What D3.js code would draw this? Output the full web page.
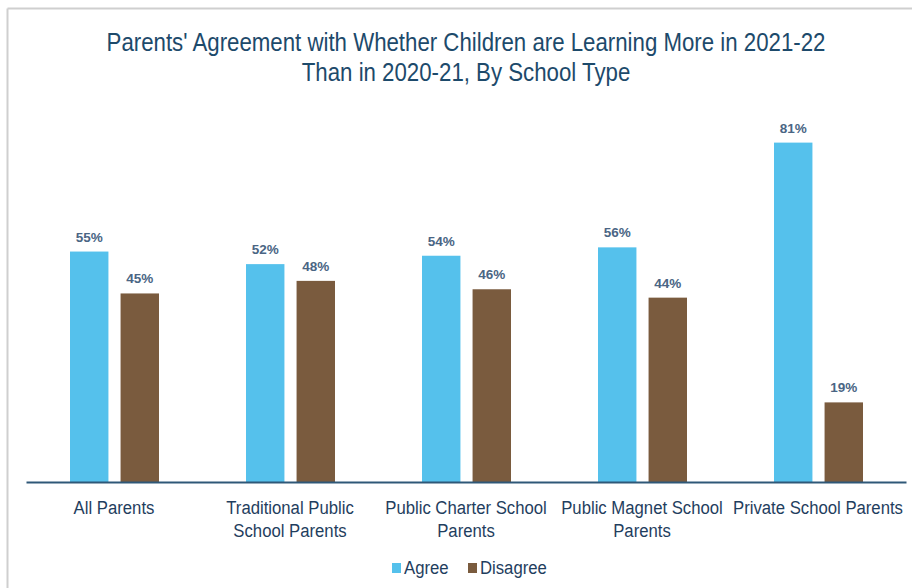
<!DOCTYPE html>
<html>
<head>
<meta charset="utf-8">
<script src="https://cdn.jsdelivr.net/npm/d3@7/dist/d3.min.js"></script>
<style>
  html, body { margin: 0; padding: 0; background: #fff; }
  svg { display: block; }
  .narrow { font-family: "Liberation Sans Narrow", "Arial Narrow", "Liberation Sans", sans-serif; }
</style>
</head>
<body>
<svg id="chart" width="912" height="588"></svg>
<script>
// Survey results: share of parents agreeing / disagreeing, by school type
const categories = [
  ["All Parents"],
  ["Traditional Public", "School Parents"],
  ["Public Charter School", "Parents"],
  ["Public Magnet School", "Parents"],
  ["Private School Parents"]
];
const seriesNames = ["Agree", "Disagree"];
const agreeValues = [55, 52, 54, 56, 81];
const disagreeValues = [45, 48, 46, 44, 19];
const titleLines = [
  "Parents' Agreement with Whether Children are Learning More in 2021-22",
  "Than in 2020-21, By School Type"
];

const colors = { Agree: "#55c1ec", Disagree: "#7a5b3e" };
const svg = d3.select("#chart");
const W = 912, H = 588;
const condense = 0.88; // horizontal squeeze to give a narrow typeface look

// outer frame (top and left edges)
svg.append("line").attr("x1", 7.5).attr("x2", W).attr("y1", 8.5).attr("y2", 8.5)
  .attr("stroke", "#cfcfcf").attr("stroke-width", 2);
svg.append("line").attr("x1", 7.5).attr("x2", 7.5).attr("y1", 8.5).attr("y2", H)
  .attr("stroke", "#cfcfcf").attr("stroke-width", 2);

// title, condensed
const titleG = svg.append("g").attr("transform", "translate(466,0) scale(0.89,1)");
titleG.selectAll("text").data(titleLines).join("text")
  .attr("class", "narrow")
  .attr("text-anchor", "middle")
  .attr("fill", "#1d4a6b")
  .attr("font-size", 25)
  .attr("x", 0)
  .attr("y", (d, i) => 51 + i * 30)
  .text(d => d);

const keys = categories.map((c, i) => i);
const x0 = d3.scaleBand().domain(keys).range([26, 906]).paddingInner(0).paddingOuter(0);
const x1 = d3.scaleBand().domain(seriesNames).range([44, 133]).paddingInner(0.24).paddingOuter(0);
const y = d3.scaleLinear().domain([0, 100]).range([482, 63]);

const rows = keys.map(i => ({
  i,
  vals: [
    { key: "Agree", v: agreeValues[i] },
    { key: "Disagree", v: disagreeValues[i] }
  ]
}));

const groups = svg.append("g").selectAll("g").data(rows).join("g")
  .attr("transform", d => `translate(${x0(d.i)},0)`);

groups.selectAll("rect").data(d => d.vals).join("rect")
  .attr("x", d => x1(d.key))
  .attr("width", x1.bandwidth())
  .attr("y", d => y(d.v))
  .attr("height", d => y(0) - y(d.v))
  .attr("fill", d => colors[d.key]);

groups.selectAll("text.val").data(d => d.vals).join("text")
  .attr("class", "val")
  .attr("x", d => x1(d.key) + x1.bandwidth() / 2)
  .attr("y", d => y(d.v) - 10)
  .attr("text-anchor", "middle")
  .attr("font-family", "'Liberation Sans', Arial, sans-serif")
  .attr("font-weight", "bold")
  .attr("font-size", 13.5)
  .attr("fill", "#4a6584")
  .text(d => d.v + "%");

// baseline axis
const xAxis = d3.axisBottom(x0).tickSize(0).tickFormat(() => "");
const axisG = svg.append("g").attr("transform", `translate(0,${y(0)})`).call(xAxis);
axisG.select(".domain").attr("stroke", "#2f5878").attr("stroke-width", 2);

// category labels, condensed
const catG = svg.append("g").selectAll("g").data(rows).join("g")
  .attr("transform", d => `translate(${x0(d.i) + x0.bandwidth() / 2},0) scale(${condense},1)`);
catG.each(function(d) {
  d3.select(this).selectAll("text").data(categories[d.i]).join("text")
    .attr("class", "narrow")
    .attr("text-anchor", "middle")
    .attr("font-size", 19)
    .attr("fill", "#1f3e5e")
    .attr("x", 0)
    .attr("y", (line, j) => 514 + j * 23)
    .text(line => line);
});

// legend
const legendItems = [{ key: "Agree", x: 392 }, { key: "Disagree", x: 468 }];
const lg = svg.append("g").selectAll("g").data(legendItems).join("g")
  .attr("transform", d => `translate(${d.x},563)`);
lg.append("rect").attr("width", 9).attr("height", 10).attr("fill", d => colors[d.key]);
lg.append("text").attr("class", "narrow")
  .attr("transform", `translate(12,11) scale(${condense},1)`)
  .attr("font-size", 19).attr("fill", "#1f3e5e").text(d => d.key);
</script>
</body>
</html>
